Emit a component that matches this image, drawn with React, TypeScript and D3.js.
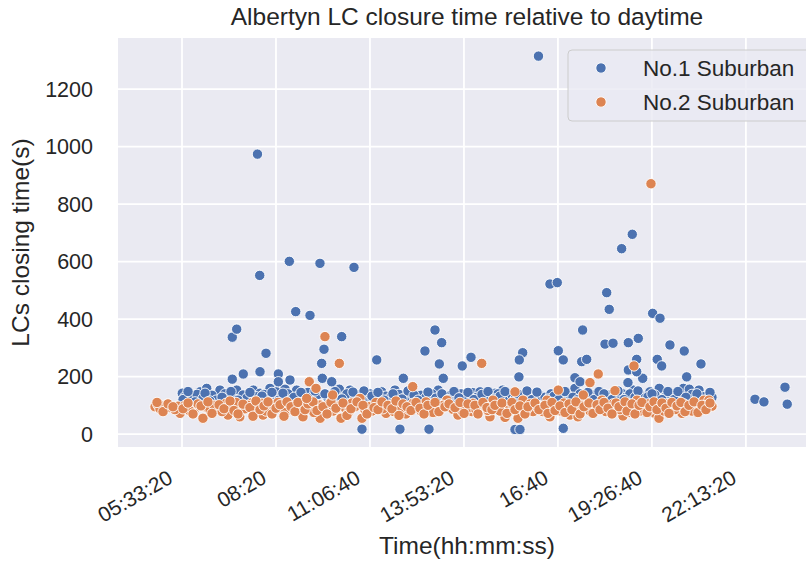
import React from 'react';
import * as d3 from 'd3';

const chartTitle = 'Albertyn LC closure time relative to daytime';
const xLabel = 'Time(hh:mm:ss)';
const yLabel = 'LCs closing time(s)';
const seriesNames = ['No.1 Suburban', 'No.2 Suburban'];
const seriesColors = ['#4c72b0', '#dd8452'];

const xTickValues = [20000, 30000, 40000, 50000, 60000, 70000, 80000];
const xTickLabels = ['05:33:20', '08:20', '11:06:40', '13:53:20', '16:40', '19:26:40', '22:13:20'];
const yTickValues = [0, 200, 400, 600, 800, 1000, 1200];

// [time of day in seconds, closing time in seconds]
const suburban1Outliers: [number, number][] = [
  [57930, 1315], [28030, 974], [28270, 552], [31420, 601], [34680, 594], [38300, 580],
  [67910, 695], [66780, 645], [59150, 522], [59930, 527], [65190, 492], [65460, 434],
  [70080, 420], [70860, 403], [32100, 426], [33620, 413], [25350, 337], [25820, 365],
  [28940, 281], [36990, 339], [35110, 295], [34860, 246], [34930, 194], [35930, 182],
  [40720, 258], [45850, 289], [46920, 362], [47630, 318], [47380, 244], [47800, 194],
  [49820, 237], [50750, 267], [43550, 194], [62630, 362], [65010, 313], [65860, 316],
  [67490, 318], [68550, 333], [71920, 310], [73440, 289], [75220, 244], [56250, 283],
  [55890, 258], [55850, 199], [60040, 290], [60570, 258], [62530, 252], [63060, 260],
  [67490, 223], [69020, 194], [70570, 260], [71040, 237], [73700, 199], [61810, 196],
  [62350, 182], [67450, 179], [68380, 217], [68380, 260], [28300, 217], [26520, 209],
  [25350, 191], [30250, 209], [30250, 182], [31490, 188],
  [39150, 17], [43190, 17], [46280, 17], [55430, 16], [55960, 16], [60570, 20],
  [80970, 121], [81920, 112], [84160, 163], [84400, 104],
];

const suburban1Band: [number, number][] = [
  [70780, 159], [69790, 147], [73340, 159], [73980, 156], [75010, 153], [74580, 124],
  [76100, 121], [68380, 142], [20030, 142], [21915, 147], [22630, 159], [24040, 153],
  [25820, 153], [27590, 153], [28300, 142], [29360, 159], [30080, 147], [30960, 156],
  [32200, 153], [36740, 156], [37880, 153], [41250, 147], [42660, 153], [47270, 153],
  [50930, 144], [51710, 147], [53300, 142], [54120, 153], [59870, 147], [61810, 159],
  [65540, 136], [66780, 142], [68020, 153],
  [20320, 130], [21060, 120], [21600, 138], [22230, 125], [23190, 135], [23620, 118],
  [24570, 140], [25000, 128], [25530, 122], [26490, 136], [26910, 126], [27870, 130],
  [28720, 138], [29150, 124], [29790, 132], [30530, 128], [31280, 140], [31700, 122],
  [32450, 134], [32870, 128], [33410, 145], [33940, 132], [34470, 138], [35530, 126],
  [36280, 148], [37240, 130], [37550, 140], [38410, 125], [38830, 136], [39580, 128],
  [40000, 140], [40430, 120], [41700, 132], [42130, 126], [43090, 138], [43830, 130],
  [44360, 142], [44900, 124], [45430, 135], [45960, 128], [46600, 140], [48090, 130],
  [48620, 136], [49150, 124], [49690, 140], [50220, 130], [51390, 128], [52240, 136],
  [52770, 124], [53620, 140], [54580, 130], [55110, 136], [56390, 128], [56920, 138],
  [57450, 125], [58090, 134], [58620, 128], [59260, 140], [60430, 130], [60960, 136],
  [61390, 124], [62350, 140], [62880, 130], [63520, 126], [64050, 138], [64580, 130],
  [65110, 124], [66070, 132], [67240, 128], [67660, 140], [68840, 134], [69260, 126],
  [70320, 136], [71390, 128], [71920, 140], [72560, 130], [72990, 125], [74260, 138],
  [75540, 130], [76390, 128],
  [20110, 120], [20640, 148], [21380, 112], [22450, 142], [22980, 115], [24260, 128],
  [25210, 148], [25960, 118], [27230, 145], [28090, 116], [28510, 132], [29570, 145],
  [30320, 118], [30740, 142], [31910, 128], [32660, 145], [33190, 118], [34150, 150],
  [35210, 140], [35960, 118], [37020, 122], [38190, 146], [39150, 118], [39360, 150],
  [40210, 132], [40850, 145], [41490, 118], [42450, 140], [43410, 122], [44050, 150],
  [44690, 135], [45110, 118], [46170, 146], [47020, 125], [47660, 140], [48300, 120],
  [48940, 148], [49470, 126], [50430, 145], [51070, 120], [51920, 138], [52560, 148],
  [53200, 122], [53840, 132], [54370, 148], [55430, 122], [55750, 140], [56710, 150],
  [57240, 120], [57770, 146], [58940, 122], [59580, 132], [60110, 120], [60750, 148],
  [61600, 128], [62130, 120], [63190, 145], [63830, 120], [64370, 148], [64900, 140],
  [65750, 120], [66390, 150], [67030, 120], [68200, 128], [68520, 150], [69580, 130],
  [70010, 140], [71070, 120], [71710, 148], [72350, 120], [72770, 148], [73620, 128],
  [74790, 140], [75750, 118], [76180, 145],
];

const suburban2Outliers: [number, number][] = [
  [69900, 871], [35210, 339], [36740, 246], [33540, 182], [34260, 159], [36030, 136],
  [44550, 165], [51890, 246], [64290, 209], [63410, 179], [68090, 237], [62700, 136],
  [66070, 151], [60040, 153], [55430, 147], [33270, 124],
];

const suburban2Band: [number, number][] = [
  [17130, 95], [17450, 101], [19570, 97], [19790, 72], [21380, 89], [22230, 55],
  [22450, 95], [23720, 93], [24680, 107], [24890, 66], [26170, 97], [26150, 60],
  [27450, 109], [27770, 72], [28510, 107], [28620, 66], [29360, 107], [30640, 89],
  [31380, 97], [32550, 95], [32870, 60], [34680, 101], [34700, 55], [36600, 97],
  [36920, 55], [38400, 95], [38940, 124], [39150, 55], [39470, 84], [41070, 97],
  [41710, 72], [42870, 97], [43830, 70], [44580, 107], [45110, 97], [45960, 112],
  [47130, 97], [48190, 118], [48830, 86], [49360, 66], [50320, 95], [50960, 107],
  [50850, 78], [51710, 95], [52770, 60], [53090, 118], [54370, 58], [54900, 93],
  [55750, 55], [56280, 118], [57350, 78], [57770, 95], [58840, 118], [59150, 60],
  [59900, 93], [60960, 93], [61280, 66], [62130, 60], [63090, 89], [63940, 93],
  [64690, 118], [65540, 97], [66280, 93], [66920, 63], [68410, 118], [69050, 89],
  [67990, 93], [69260, 89], [70320, 72], [70750, 55], [70860, 97], [71920, 93],
  [72880, 93], [73200, 72], [73730, 93], [74790, 95], [75540, 118], [76070, 118],
  [76390, 97],
  [17660, 88], [18190, 100], [18720, 92], [19250, 85], [20320, 100], [20850, 80],
  [21700, 105], [22980, 85], [23400, 100], [24260, 78], [25320, 95], [25750, 110],
  [26700, 88], [27020, 100], [28090, 90], [28940, 80], [29790, 95], [30210, 110],
  [30960, 75], [31810, 88], [32130, 105], [33720, 90], [34040, 75], [35210, 88],
  [35640, 105], [36070, 80], [37340, 92], [37770, 78], [38090, 108], [39900, 95],
  [40210, 80], [40640, 110], [41390, 88], [42240, 100], [42560, 78], [43300, 90],
  [44150, 85], [45430, 80], [46390, 92], [46710, 75], [47560, 88], [47770, 100],
  [49790, 80], [50640, 92], [51280, 85], [52240, 100], [52560, 82], [53520, 92],
  [53840, 80], [55220, 100], [56710, 88], [57030, 105], [58200, 92], [58410, 78],
  [59470, 100], [60320, 80], [60640, 108], [61710, 90], [62560, 100], [63410, 80],
  [64260, 88], [65110, 78], [65860, 105], [66600, 85], [67450, 100], [67660, 75],
  [68730, 80], [69580, 105], [70010, 88], [71280, 80], [71600, 105], [72450, 85],
  [73410, 105], [74260, 80], [75110, 88], [75860, 100],
  [17340, 110], [17980, 78], [18510, 105], [19040, 95], [20110, 88], [20640, 108],
  [21170, 70], [22020, 98], [22760, 112], [23190, 72], [23940, 102], [24470, 88],
  [25110, 115], [25530, 82], [25960, 70], [26490, 104], [27230, 92], [27550, 62],
  [27870, 115], [28300, 85], [28720, 98], [29150, 112], [29570, 70], [30000, 90],
  [30430, 102], [30850, 62], [31170, 112], [31600, 95], [32020, 78], [32340, 110],
  [33090, 85], [33410, 105], [33940, 112], [34360, 82], [35000, 95], [35430, 70],
  [35850, 110], [36380, 90], [37130, 108], [37550, 65], [37980, 88], [38620, 112],
  [39260, 100], [39680, 70], [40430, 92], [40850, 85], [41280, 112], [41920, 100],
  [42340, 88], [42770, 115], [43090, 65], [43510, 105], [43940, 95], [44370, 82],
  [44900, 110], [45320, 90], [45750, 70], [46170, 100], [46920, 110], [47340, 78],
  [47980, 95], [48410, 105], [49050, 92], [49580, 110], [50010, 72], [50430, 105],
  [51170, 100], [51490, 70], [52020, 110], [52450, 92], [52980, 85], [53300, 100],
  [54050, 108], [54580, 72], [55110, 110], [55430, 85], [55960, 98], [56490, 70],
  [56810, 95], [57560, 108], [57980, 85], [58620, 100], [58940, 72], [59370, 110],
  [59690, 82], [60220, 98], [60750, 75], [61180, 105], [61490, 85], [61920, 112],
  [62350, 70], [62770, 95], [63300, 108], [63730, 72], [64160, 102], [64480, 85],
  [64900, 110], [65330, 90], [65750, 70], [66180, 108], [66500, 95], [67140, 112],
  [67350, 80], [67880, 105], [68200, 70], [68630, 100], [68940, 110], [69480, 75],
  [69790, 95], [70220, 112], [70540, 85], [71070, 108], [71500, 90], [71820, 72],
  [72130, 110], [72670, 98], [73090, 110], [73520, 78], [73940, 100], [74480, 112],
  [74900, 75], [75330, 100], [75750, 85], [76180, 108],
];

const FONT = '"Liberation Sans", Arial, "DejaVu Sans", sans-serif';
const TEXT = '#262626';

export default function App() {
  const W = 806;
  const H = 565;
  const left = 118, right = 816, top = 38, bottom = 447;

  const x = d3.scaleLinear().domain([13190, 87460]).range([left, right]);
  const y = d3.scaleLinear().domain([-45, 1378]).range([bottom, top]);

  const blue = [...suburban1Band, ...suburban1Outliers];
  const orange = [...suburban2Band, ...suburban2Outliers];

  const r = 5.2;

  return (
    <svg
      width={W}
      height={H}
      style={{ position: 'absolute', left: 0, top: 0, display: 'block', background: '#ffffff' }}
      fontFamily={FONT}
    >
      <defs>
        <clipPath id="plotClip">
          <rect x={left} y={top} width={right - left} height={bottom - top} />
        </clipPath>
      </defs>
      <rect x={left} y={top} width={right - left} height={bottom - top} fill="#eaeaf2" />
      {xTickValues.map((t) => (
        <line key={'gx' + t} x1={x(t)} x2={x(t)} y1={top} y2={bottom} stroke="#ffffff" strokeWidth={1.8} />
      ))}
      {yTickValues.map((t) => (
        <line key={'gy' + t} x1={left} x2={right} y1={y(t)} y2={y(t)} stroke="#ffffff" strokeWidth={1.8} />
      ))}
      <g clipPath="url(#plotClip)">
        {blue.map((d, i) => (
          <circle key={'b' + i} cx={x(d[0])} cy={y(d[1])} r={r} fill={seriesColors[0]} stroke="#ffffff" strokeWidth={0.9} />
        ))}
        {orange.map((d, i) => (
          <circle key={'o' + i} cx={x(d[0])} cy={y(d[1])} r={r} fill={seriesColors[1]} stroke="#ffffff" strokeWidth={0.9} />
        ))}
      </g>
      {yTickValues.map((t) => (
        <text key={'yt' + t} x={left - 25} y={y(t)} dy="0.35em" textAnchor="end" fontSize={21.5} fill={TEXT}>
          {t}
        </text>
      ))}
      {xTickValues.map((t, i) => {
        const ax = x(t) - 8;
        const ay = 482;
        return (
          <text key={'xt' + t} x={ax} y={ay} textAnchor="end" fontSize={21} fill={TEXT} transform={`rotate(-30, ${ax}, ${ay})`}>
            {xTickLabels[i]}
          </text>
        );
      })}
      <text x={(left + right) / 2} y={25} textAnchor="middle" fontSize={24.5} fill={TEXT}>
        {chartTitle}
      </text>
      <text x={(left + right) / 2} y={554} textAnchor="middle" fontSize={24.5} fill={TEXT}>
        {xLabel}
      </text>
      <text x={0} y={0} textAnchor="middle" fontSize={24.5} fill={TEXT} transform={`translate(29, ${(top + bottom) / 2}) rotate(-90)`}>
        {yLabel}
      </text>
      <g>
        <rect x={568} y={50} width={260} height={71} rx={4} fill="#eaeaf2" fillOpacity={0.8} stroke="#cccccc" strokeWidth={1} />
        {seriesNames.map((name, i) => (
          <g key={name}>
            <circle cx={601} cy={68 + i * 34} r={r} fill={seriesColors[i]} stroke="#ffffff" strokeWidth={0.9} />
            <text x={643} y={68 + i * 34} dy="0.35em" fontSize={22.5} fill={TEXT}>
              {name}
            </text>
          </g>
        ))}
      </g>
    </svg>
  );
}
